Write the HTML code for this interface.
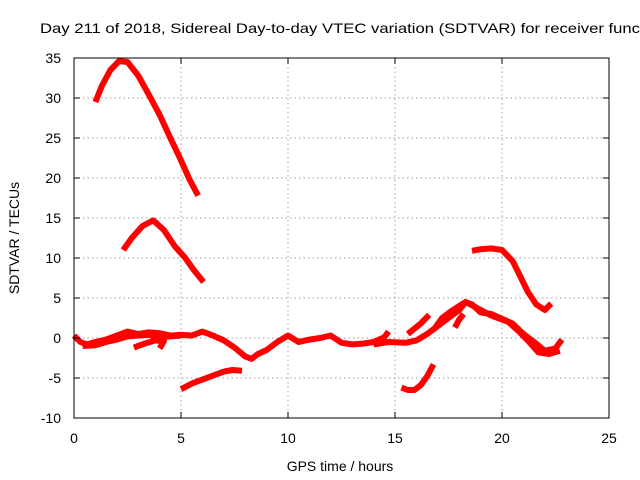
<!DOCTYPE html>
<html><head><meta charset="utf-8"><style>
html,body{margin:0;padding:0;background:#fff}
svg{display:block;font-family:"Liberation Sans",sans-serif}
</style></head><body>
<svg id="chart" width="640" height="480" viewBox="0 0 640 480" xmlns="http://www.w3.org/2000/svg">
<rect width="640" height="480" fill="#fff"/>
<text x="40" y="33" font-size="14" textLength="600" lengthAdjust="spacingAndGlyphs">Day 211 of 2018, Sidereal Day-to-day VTEC variation (SDTVAR) for receiver func</text>
<g id="grid"></g>
<g id="series"></g>
<rect x="74" y="58" width="535" height="360" fill="none" stroke="#000" stroke-width="1"/>
<g id="ticks"></g>
<text x="340" y="471" font-size="14" text-anchor="middle">GPS time / hours</text>
<text transform="translate(19,238) rotate(-90)" font-size="14" text-anchor="middle">SDTVAR / TECUs</text>
</svg>
<script>
const xTicks = [0,5,10,15,20,25];
const yTicks = [-10,-5,0,5,10,15,20,25,30,35];
const segTopArcX = [1.0,1.3,1.7,2.1,2.5,3.0,3.5,4.0,4.5,4.95,5.4,5.8];
const segTopArcY = [29.5,31.5,33.5,34.6,34.5,32.8,30.4,27.9,25,22.5,19.8,17.8];
const segMidArcX = [2.3,2.7,3.2,3.7,4.2,4.7,5.2,5.6,6.05];
const segMidArcY = [11,12.5,14,14.7,13.5,11.5,10,8.5,7];
const segLowAX = [5.0,5.5,6.0,6.5,7.0,7.4,7.85];
const segLowAY = [-6.4,-5.7,-5.2,-4.7,-4.2,-4.0,-4.1];
const segLowBX = [15.3,15.6,15.9,16.2,16.5,16.8];
const segLowBY = [-6.2,-6.5,-6.5,-5.9,-4.8,-3.3];
const segHighRX = [18.6,19.0,19.5,20.0,20.5,20.8,21.2,21.6,22.0,22.3];
const segHighRY = [10.9,11.1,11.2,11.0,9.6,8.0,5.8,4.2,3.5,4.3];
const segMain1X = [0,0.3,0.6,1.0,1.5,2.0,2.5,3.0,3.5,4.0,4.5,5.0,5.5,6.0,6.5,7.0,7.5,8.0,8.3,8.6,9.0,9.5,10.0,10.5,11.0,11.5,12.0,12.5,13.0,13.5,14.0,14.5,14.7];
const segMain1Y = [0.3,-0.5,-0.8,-0.5,-0.2,0.3,0.8,0.5,0.7,0.6,0.3,0.4,0.3,0.8,0.3,-0.3,-1.2,-2.3,-2.6,-2,-1.5,-0.5,0.3,-0.5,-0.2,0,0.3,-0.6,-0.8,-0.7,-0.5,0.1,0.8];
const segMain2X = [0.4,1.0,1.5,2.0,2.5,3.0,3.5,4.0,4.5,5.0];
const segMain2Y = [-1.0,-0.9,-0.5,-0.2,0.2,0.3,0.4,0.1,0.2,0.3];
const segHookX = [2.8,3.3,3.8,4.2,4.0];
const segHookY = [-1.2,-0.7,-0.3,-0.4,-1.3];
const segRight1X = [14.0,14.7,15.5,16.0,16.5,17.0,17.5,18.0,18.3,18.6,19.0,19.5,20.0,20.5,21.0,21.5,22.0,22.5,22.8];
const segRight1Y = [-0.8,-0.5,-0.6,-0.3,0.5,1.5,2.5,3.5,4.5,4.2,3.2,3.0,2.4,1.8,0.5,-0.5,-1.6,-1.3,-0.2];
const segRight2X = [16.8,17.2,17.6,18.0,18.3,18.8,19.5,20.3,20.8,21.2,21.7,22.2,22.7];
const segRight2Y = [1.0,2.5,3.3,4.0,4.5,3.8,2.8,2.0,0.8,-0.3,-1.8,-2.0,-1.6];
const segSpurX = [15.6,16.2,16.6];
const segSpurY = [0.5,1.8,2.9];
const segSpur2X = [17.8,18.0,18.2];
const segSpur2Y = [1.3,2.3,3.0];

const X0=74, X1=609, Y0=418, Y1=58;
function sx(v){return X0+(v-0)/(25-0)*(X1-X0);}
function sy(v){return Y0-(v-(-10))/(35-(-10))*(Y0-Y1);}
const NS="http://www.w3.org/2000/svg";
const grid=document.getElementById('grid'), ticks=document.getElementById('ticks'), series=document.getElementById('series');
function mk(tag,attrs,parent){const e=document.createElementNS(NS,tag);for(const k in attrs)e.setAttribute(k,attrs[k]);parent.appendChild(e);return e;}
xTicks.forEach(t=>{
  const x=sx(t);
  if(t>0&&t<25){const g=mk('line',{x1:x,x2:x,y1:Y1,y2:Y0,stroke:'#a0a0a0','stroke-dasharray':'1.5,3'},grid);
    
    }
  const tl=mk('line',{x1:x,x2:x,y1:Y0,y2:Y0-6,stroke:'#000'},ticks);
  
  
  const tt=mk('line',{x1:x,x2:x,y1:Y1,y2:Y1+6,stroke:'#000'},ticks);
  
  
  const lb=mk('text',{x:x,y:443,'font-size':14,'text-anchor':'middle'},ticks);lb.textContent=t;
  
  
});
yTicks.forEach(t=>{
  const y=sy(t);
  if(t>-10&&t<35){const g=mk('line',{x1:X0,x2:X1,y1:y,y2:y,stroke:'#a0a0a0','stroke-dasharray':'1.5,3'},grid);
    
    }
  const tl=mk('line',{x1:X0,x2:X0+6,y1:y,y2:y,stroke:'#000'},ticks);
  
  
  const tr=mk('line',{x1:X1,x2:X1-6,y1:y,y2:y,stroke:'#000'},ticks);
  
  
  const lb=mk('text',{x:61,y:y+5,'font-size':14,'text-anchor':'end'},ticks);lb.textContent=t;
  
  
});
const segs=[[segTopArcX,segTopArcY],[segMidArcX,segMidArcY],[segLowAX,segLowAY],[segLowBX,segLowBY],[segHighRX,segHighRY],[segMain1X,segMain1Y],[segMain2X,segMain2Y],[segHookX,segHookY],[segRight1X,segRight1Y],[segRight2X,segRight2Y],[segSpurX,segSpurY],[segSpur2X,segSpur2Y]];
segs.forEach(s=>{
  const pts=s[0].map((v,i)=>sx(v).toFixed(1)+','+sy(s[1][i]).toFixed(1)).join(' ');
  const p=mk('polyline',{points:pts,fill:'none',stroke:'#ff0000','stroke-width':6,'stroke-linejoin':'round','stroke-linecap':'butt'},series);
  
  
});
</script>
</body></html>
